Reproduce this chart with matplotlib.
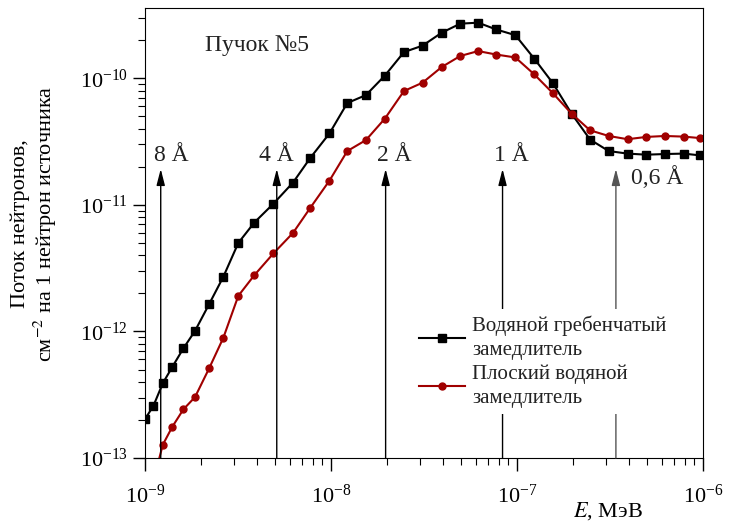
import matplotlib
matplotlib.use("Agg")
import matplotlib.pyplot as plt

plt.rcParams['font.family'] = ['Liberation Serif', 'DejaVu Serif']
plt.rcParams['mathtext.fontset'] = 'stix'

# энергия, МэВ
energy = [1.00e-9, 1.11e-9, 1.245e-9, 1.40e-9, 1.607e-9, 1.857e-9, 2.21e-9, 2.636e-9,
          3.174e-9, 3.87e-9, 4.90e-9, 6.25e-9, 7.76e-9, 9.82e-9, 1.224e-8, 1.543e-8,
          1.95e-8, 2.47e-8, 3.11e-8, 3.94e-8, 4.96e-8, 6.19e-8, 7.74e-8, 9.82e-8,
          1.24e-7, 1.56e-7, 1.97e-7, 2.475e-7, 3.12e-7, 3.94e-7, 4.97e-7, 6.26e-7,
          7.90e-7, 9.64e-7]

# водяной гребенчатый замедлитель
flux_comb = [2.03e-13, 2.59e-13, 3.89e-13, 5.23e-13, 7.34e-13, 1.01e-12, 1.64e-12, 2.70e-12,
             5.00e-12, 7.25e-12, 1.02e-11, 1.50e-11, 2.36e-11, 3.67e-11, 6.37e-11, 7.37e-11,
             1.05e-10, 1.61e-10, 1.81e-10, 2.29e-10, 2.70e-10, 2.75e-10, 2.43e-10, 2.19e-10,
             1.43e-10, 9.17e-11, 5.25e-11, 3.28e-11, 2.66e-11, 2.54e-11, 2.49e-11, 2.52e-11,
             2.54e-11, 2.46e-11]

# плоский водяной замедлитель (начиная со второй точки)
energy_flat = energy[1:]
flux_flat = [6.6e-14, 1.27e-13, 1.76e-13, 2.42e-13, 3.03e-13, 5.10e-13, 8.90e-13,
             1.91e-12, 2.78e-12, 4.13e-12, 6.00e-12, 9.52e-12, 1.555e-11, 2.66e-11, 3.25e-11,
             4.80e-11, 7.93e-11, 9.23e-11, 1.226e-10, 1.50e-10, 1.64e-10, 1.54e-10, 1.46e-10,
             1.074e-10, 7.64e-11, 5.25e-11, 3.88e-11, 3.50e-11, 3.30e-11, 3.44e-11, 3.50e-11,
             3.46e-11, 3.37e-11]

# стрелки длин волн
arrow_x = [1.214e-9, 5.11e-9, 1.968e-8, 8.375e-8, 3.41e-7]
arrow_labels = ['8 Å', '4 Å', '2 Å', '1 Å', '0,6 Å']
label_x = [1.39e-9, 5.06e-9, 2.18e-8, 9.34e-8, 5.69e-7]
label_y = [2.46e-11, 2.46e-11, 2.46e-11, 2.46e-11, 1.65e-11]
arrow_colors = ['k', 'k', 'k', 'k', '#555555']

fig, ax = plt.subplots(figsize=(7.29, 5.24), dpi=100)
fig.subplots_adjust(left=0.199, right=0.964, top=0.985, bottom=0.126)

ax.plot(energy, flux_comb, color='black', marker='s', markersize=5.5, lw=1.5,
        label='Водяной гребенчатый\nзамедлитель')
ax.plot(energy_flat, flux_flat, color='#a00000', marker='o', markersize=5, lw=1.5,
        label='Плоский водяной\nзамедлитель')

ax.set_xscale('log')
ax.set_yscale('log')
ax.set_xlim(1e-9, 1e-6)
ax.set_ylim(1e-13, 3.6e-10)

for x, c in zip(arrow_x, arrow_colors):
    ax.annotate('', xy=(x, 1.92e-11), xytext=(x, 1e-13),
                arrowprops=dict(arrowstyle='-|>,head_length=0.7,head_width=0.18',
                                color=c, lw=1, shrinkA=0, shrinkB=0,
                                mutation_scale=14))
for x, y, t in zip(label_x, label_y, arrow_labels):
    ax.text(x, y, t, ha='center', va='center', fontsize=17, color='#222222')

ax.text(0.1075, 0.916, 'Пучок №5', transform=ax.transAxes, fontsize=17,
        ha='left', va='center', color='#222222')

ax.tick_params(which='major', length=9, width=1, labelsize=16, direction='out')
ax.tick_params(which='minor', length=5, width=0.8, direction='out')
ax.tick_params(axis='x', pad=10)

ax.set_xlabel('$E$, МэВ', fontsize=16)
ax.xaxis.set_label_coords(0.83, -0.093)
ax.set_ylabel('Поток нейтронов,\nсм$^{-2}$ на 1 нейтрон источника', fontsize=16,
              linespacing=1.05)
ax.yaxis.set_label_coords(-0.155, 0.52)

leg = ax.legend(loc='upper left', bbox_to_anchor=(0.48, 0.33), frameon=True,
                fontsize=15, handlelength=2.2, labelspacing=0.2,
                borderpad=0.3, handletextpad=0.35, borderaxespad=0)
leg.get_frame().set_edgecolor('none')
leg.get_frame().set_facecolor('white')
leg.get_frame().set_alpha(1)
for t in leg.get_texts():
    t.set_linespacing(1.35)
    t.set_color('#222222')

plt.savefig('out.png', dpi=100)
